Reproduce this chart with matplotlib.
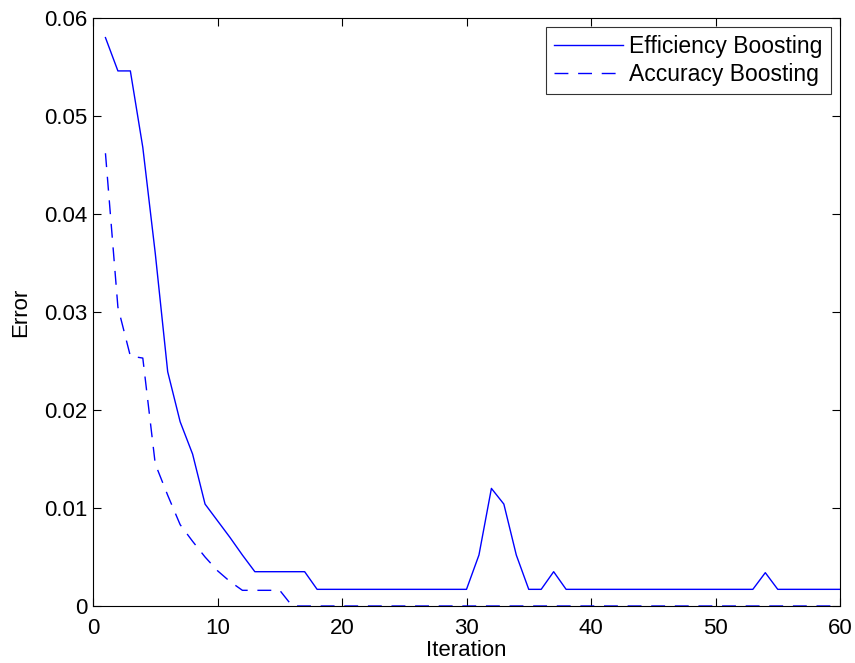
import matplotlib
matplotlib.use("Agg")
import matplotlib.pyplot as plt
import numpy as np

iterations = list(range(1, 61))
efficiency = [0.0580, 0.0546, 0.0546, 0.0468, 0.0360, 0.0239, 0.0188, 0.0155, 0.0104, 0.0087,
              0.0070, 0.0052, 0.0035, 0.0035, 0.0035, 0.0035, 0.0035, 0.0017, 0.0017, 0.0017,
              0.0017, 0.0017, 0.0017, 0.0017, 0.0017, 0.0017, 0.0017, 0.0017, 0.0017, 0.0017,
              0.0052, 0.0120, 0.0104, 0.0052, 0.0017, 0.0017, 0.0035, 0.0017, 0.0017, 0.0017,
              0.0017, 0.0017, 0.0017, 0.0017, 0.0017, 0.0017, 0.0017, 0.0017, 0.0017, 0.0017,
              0.0017, 0.0017, 0.0017, 0.0034, 0.0017, 0.0017, 0.0017, 0.0017, 0.0017, 0.0017]
accuracy = [0.0462, 0.0305, 0.0255, 0.0253, 0.0145, 0.0113, 0.0083, 0.0066, 0.0050, 0.0036,
            0.0025, 0.0016, 0.0016, 0.0016, 0.0016, 0.0] + [0.0] * 44

xticks = [0, 10, 20, 30, 40, 50, 60]
yticks = [0, 0.01, 0.02, 0.03, 0.04, 0.05, 0.06]
ytick_labels = ["0", "0.01", "0.02", "0.03", "0.04", "0.05", "0.06"]

plt.rcParams['font.family'] = ['Liberation Sans', 'DejaVu Sans']
fig = plt.figure(figsize=(8.55, 6.63), dpi=100)
ax = fig.add_axes([93/855, 57/663, 747/855, 588/663])

ax.plot(iterations, efficiency, color=(0, 0, 1), lw=1.0, label="Efficiency Boosting")
ax.plot(iterations, accuracy, color=(0, 0, 1), lw=1.0, linestyle=(0, (10, 7)), label="Accuracy Boosting")

ax.set_xlim(0, 60)
ax.set_ylim(0, 0.06)
ax.set_xticks(xticks)
ax.set_yticks(yticks)
ax.set_yticklabels(ytick_labels)
ax.tick_params(axis='both', direction='in', top=True, right=True, length=5.5, width=0.8, labelsize=16)
ax.tick_params(axis='y', pad=4)
ax.tick_params(axis='x', pad=8.5)
for s in ax.spines.values():
    s.set_linewidth(0.8)
ax.set_xlabel("Iteration", fontsize=16, labelpad=1)
ax.set_ylabel("Error", fontsize=16, labelpad=9)

leg = ax.legend(loc='upper right', fontsize=16.5, frameon=True, fancybox=False,
                edgecolor='black', handlelength=3.0, borderaxespad=0.4,
                handletextpad=0.3, borderpad=0.35, labelspacing=0.22)
leg.get_frame().set_linewidth(0.8)

fig.savefig("out.png", dpi=100)
